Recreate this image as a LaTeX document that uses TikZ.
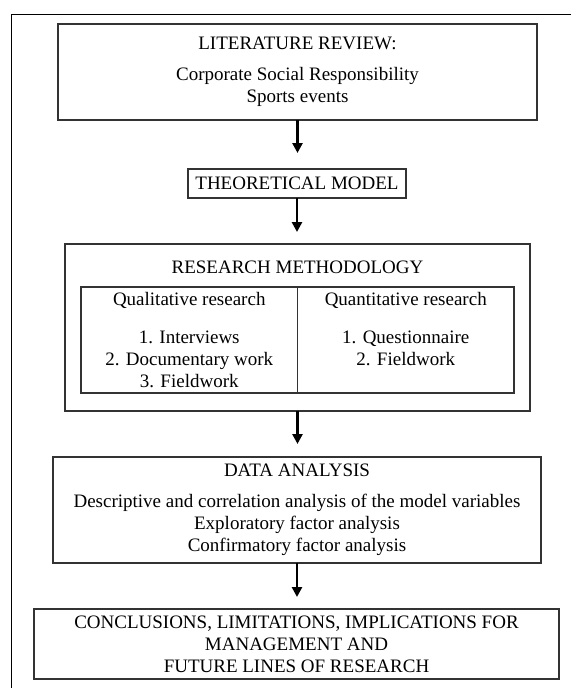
\documentclass[tikz,border=0pt]{standalone}
\usepackage{fontspec}
\setmainfont{Liberation Serif}
\usetikzlibrary{arrows.meta,positioning,calc}

\begin{document}
\begin{tikzpicture}[
  x=1pt, y=-1pt,
  font=\fontsize{19}{22}\selectfont,
  stage/.style={draw=black!80, line width=1.1pt, align=center, inner sep=0pt, outer sep=0pt},
  cell/.style={stage, minimum width=216.5pt, minimum height=106pt},
  flow/.style={-{Triangle[length=10pt, width=10pt]}, line width=2.8pt, shorten >=#1}
]
\useasboundingbox (0,0) rectangle (571,688);
% page frame: only its top and left edges are in view
\draw[line width=1.3pt] (571,14.5) -- (11.5,14.5) -- (11.5,688);

% stages, top to bottom
\node[stage, minimum width=479pt, minimum height=96pt] (lit) at (297.5,72)
  {LITERATURE REVIEW:\\[9pt]Corporate Social Responsibility\\Sports events};
\node[stage, minimum width=218pt, minimum height=29pt] (theo) at (297,183.5) {THEORETICAL MODEL};
\node[stage, minimum width=465pt, minimum height=167pt] (method) at (297.5,327.5) {};
\node (methodtitle) at (297.5,267) {RESEARCH METHODOLOGY};
\node[cell] (qual) at (189.25,340)
  {Qualitative research\\[16pt]1. Interviews\\2. Documentary work\\3. Fieldwork};
\node[cell, right=0pt of qual] (quant)
  {Quantitative research\\[16pt]1. Questionnaire\\2. Fieldwork\\\mbox{}};
\node[stage, minimum width=488pt, minimum height=106pt] (data) at (297,510)
  {DATA ANALYSIS\\[9pt]Descriptive and correlation analysis of the model variables\\Exploratory factor analysis\\Confirmatory factor analysis};
\node[stage, minimum width=525pt, minimum height=70pt] (concl) at (296.5,644)
  {CONCLUSIONS, LIMITATIONS, IMPLICATIONS FOR\\MANAGEMENT AND\\FUTURE LINES OF RESEARCH};

% arrows
\draw[flow=16pt] (lit.south) -- (lit.south |- theo.north);
\draw[flow=12pt] (theo.south) -- (theo.south |- method.north);
\draw[flow=13pt] (method.south) -- (method.south |- data.north);
\draw[flow=12pt] (data.south) -- (data.south |- concl.north);
\end{tikzpicture}
\end{document}
